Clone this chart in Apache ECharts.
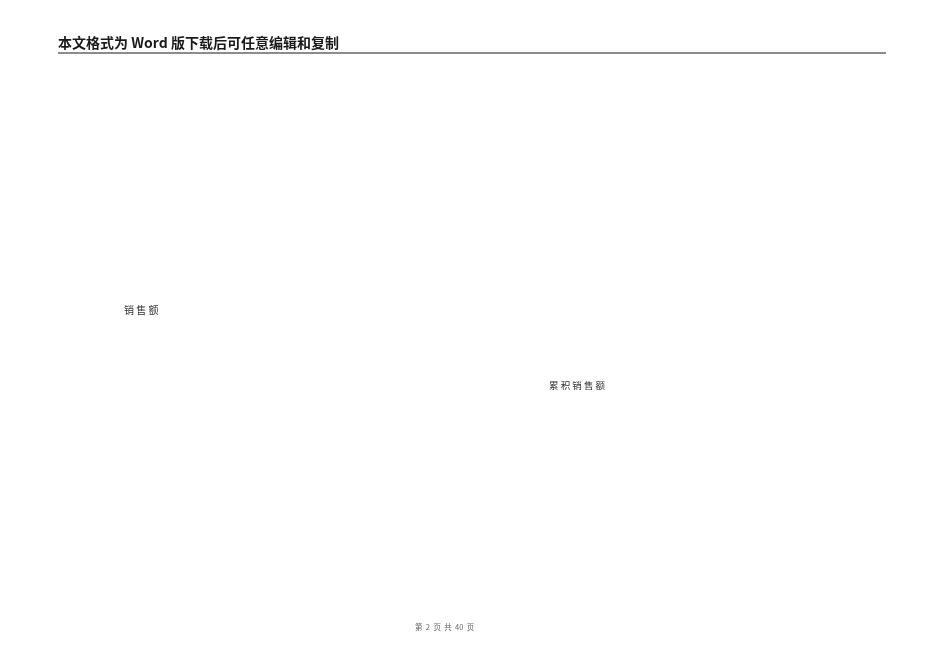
<!DOCTYPE html>
<html>
<head>
<meta charset="utf-8">
<script src="https://cdn.jsdelivr.net/npm/echarts@6/dist/echarts.min.js"></script>
<style>
  html, body { margin: 0; padding: 0; background: #fff; }
  #main { width: 950px; height: 672px; }
</style>
</head>
<body>
<div id="main"></div>
<script>
// page texts (the chart itself shows no marks, only its two labels)
var headerText = '本文格式为 Word 版下载后可任意编辑和复制';
var seriesNames = ['销售额', '累积销售额'];
var pageNo = 2, pageTotal = 40;

var myChart = echarts.init(document.getElementById('main'));

function spaced(s) { return s.split('').join(' '); }

var option = {
    backgroundColor: '#fff',
    animation: false,
    title: [
        {
            text: headerText,
            left: 58, top: 36, padding: 0,
            textStyle: { fontSize: 14, fontWeight: 'bold', color: '#1a1a1a', fontFamily: 'Noto Sans CJK SC' }
        },
        {
            text: spaced(seriesNames[0]),
            left: 124, top: 305, padding: 0,
            textStyle: { fontSize: 10, fontWeight: 'normal', color: '#333', fontFamily: 'Noto Sans CJK SC' }
        },
        {
            text: spaced(seriesNames[1]),
            left: 549, top: 381, padding: 0,
            textStyle: { fontSize: 9.5, fontWeight: 'normal', color: '#333', fontFamily: 'Noto Sans CJK SC' }
        },
        {
            text: '第  ' + pageNo + '  页  共  ' + pageTotal + '  页',
            left: 415, top: 623, padding: 0,
            textStyle: { fontSize: 7.5, fontWeight: 'normal', color: '#666', fontFamily: 'Noto Sans CJK SC' }
        }
    ],
    graphic: [
        {
            type: 'line',
            shape: { x1: 58, y1: 53, x2: 886, y2: 53 },
            style: { stroke: '#8c8c8c', lineWidth: 2 }
        }
    ],
    series: []
};

myChart.setOption(option);
</script>
</body>
</html>
